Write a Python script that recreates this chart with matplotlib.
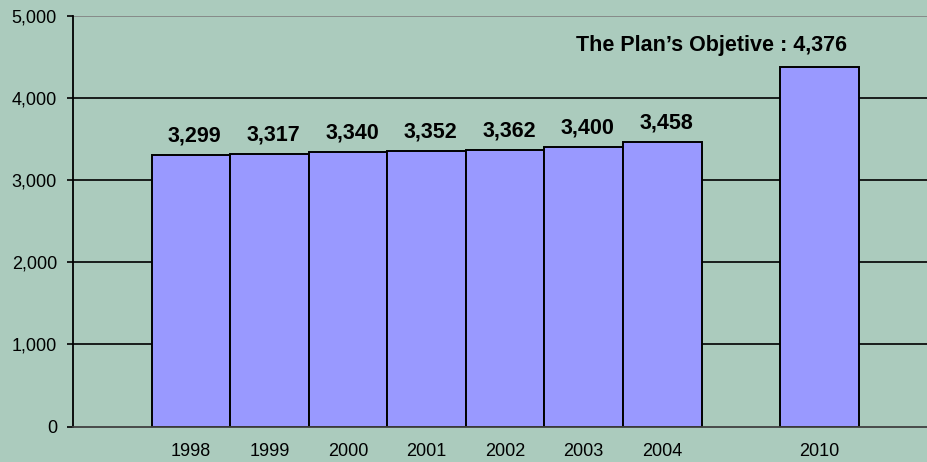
import matplotlib
matplotlib.use("Agg")
import matplotlib.pyplot as plt

# consumption per year, 2010 is the plan target
years = ["1998", "1999", "2000", "2001", "2002", "2003", "2004", "2010"]
values = [3299, 3317, 3340, 3352, 3362, 3400, 3458, 4376]
slots = [0, 1, 2, 3, 4, 5, 6, 8]
y_ticks = [0, 1000, 2000, 3000, 4000, 5000]

bg = "#abcbbd"
bar_color = "#9999ff"

plt.rcParams["font.family"] = ["Liberation Sans", "DejaVu Sans"]

fig = plt.figure(figsize=(9.27, 4.62), dpi=100)
fig.patch.set_facecolor(bg)
ax = fig.add_axes([0.0787, 0.0764, 0.9213, 0.8897])
ax.set_facecolor(bg)

ax.set_xlim(-1.5, 9.37)
ax.set_ylim(0, 5000)

# horizontal gridlines behind the bars
for y in y_ticks[1:-1]:
    ax.axhline(y, color="black", linewidth=1.2, zorder=1)
ax.axhline(5000, color="#808080", linewidth=1.2, zorder=1)

bars = ax.bar(slots, values, width=1.0, color=bar_color,
              edgecolor="black", linewidth=1.4, zorder=2)

for s, v in zip(slots[:-1], values[:-1]):
    ax.annotate(f"{v:,}", (s, v), xytext=(4, 9), textcoords="offset pixels",
                ha="center", va="bottom", fontsize=15.5, fontweight="bold")

ax.annotate(f"The Plan\u2019s Objetive : {values[-1]:,}", (slots[-1], values[-1]),
            xytext=(28, 11), textcoords="offset pixels",
            ha="right", va="bottom", fontsize=15.5, fontweight="bold")

ax.set_yticks(y_ticks)
ax.set_yticklabels([f"{t:,}" for t in y_ticks], fontsize=13)
ax.set_xticks(slots)
ax.set_xticklabels(years, fontsize=13)
ax.tick_params(axis="x", length=0, pad=12)
ax.tick_params(axis="y", length=4.5, width=1.2, color="black", pad=7)

for side in ["top", "right"]:
    ax.spines[side].set_visible(False)
ax.spines["left"].set_color("black")
ax.spines["left"].set_linewidth(1.3)
ax.spines["bottom"].set_color("#404040")
ax.spines["bottom"].set_linewidth(1.3)
ax.spines["bottom"].set_zorder(3)

fig.savefig("out.png", dpi=100, facecolor=bg)
